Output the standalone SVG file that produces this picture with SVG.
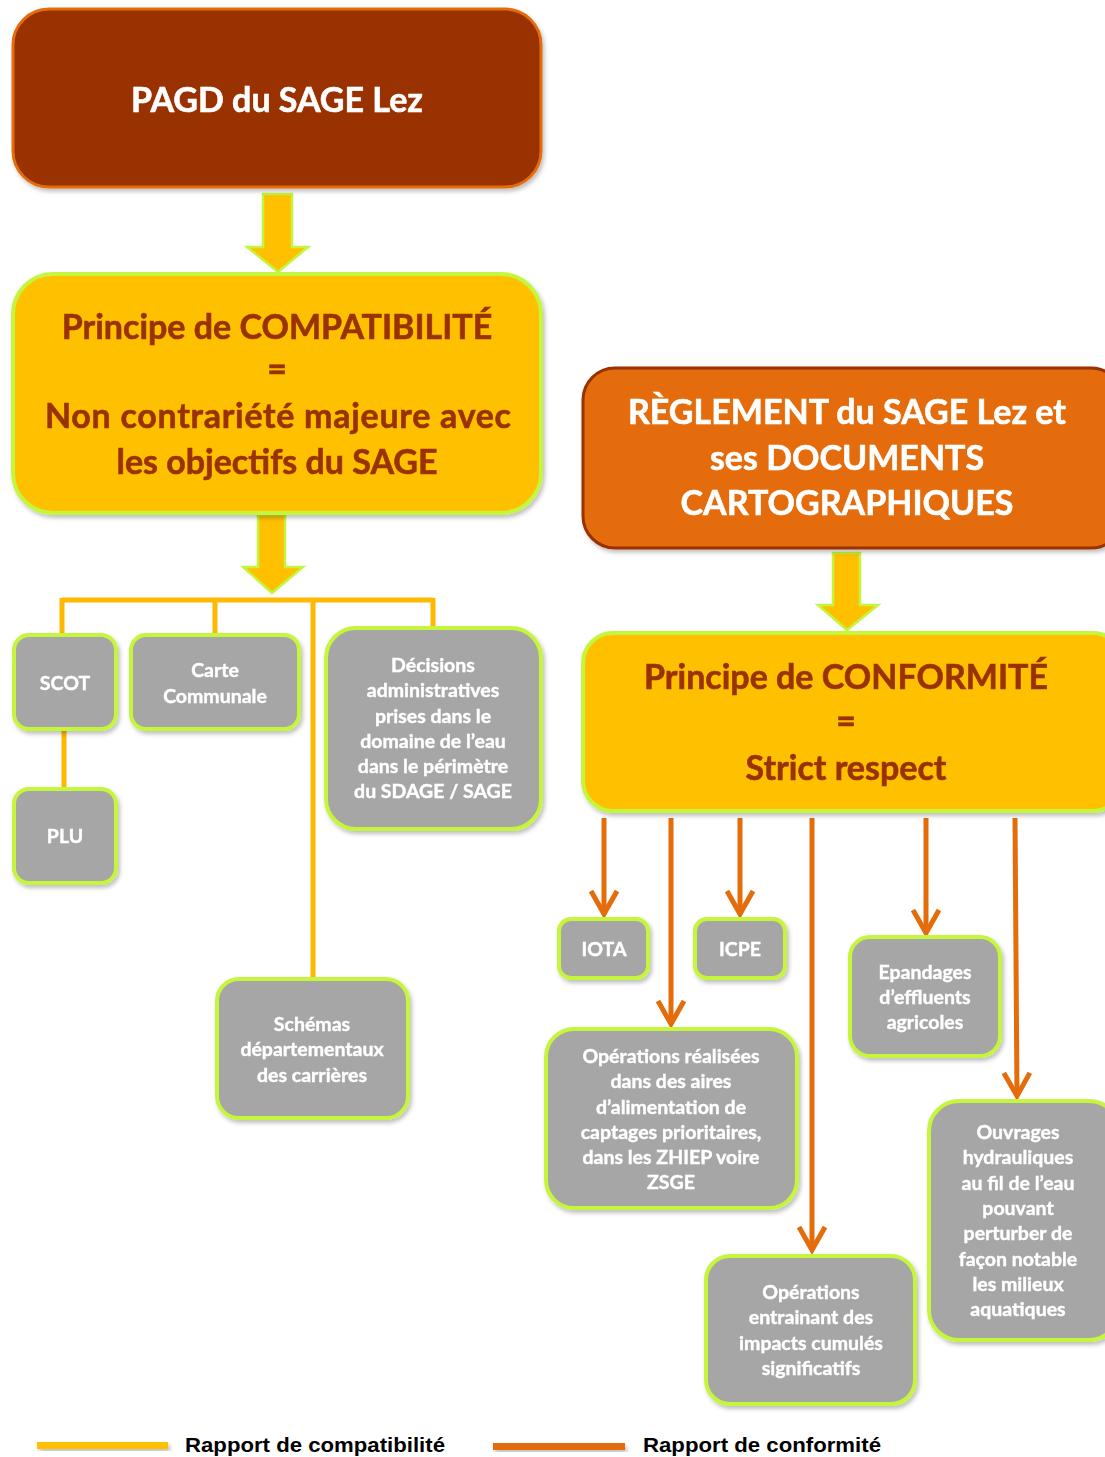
<svg xmlns="http://www.w3.org/2000/svg" width="1105" height="1457" viewBox="0 0 1105 1457">
<defs>
<style>
.t{font-family:Lato,"Open Sans","Liberation Sans",sans-serif;font-weight:bold;text-anchor:middle}
.big{font-size:34px}
.w{fill:#ffffff;stroke:#ffffff;stroke-width:0.6}
.br{fill:#993300;stroke:#993300;stroke-width:0.6}
.sm{font-size:19.5px;fill:#ffffff;stroke:#ffffff;stroke-width:0.4}
.g{fill:#A6A6A6;stroke:#C5F53C;stroke-width:4}
.y{fill:#FFC000;stroke:#C5F53C;stroke-width:4}
.bar{fill:#FFC000;stroke:#C5F53C;stroke-width:2.5}
.cl{stroke:#FFB800;stroke-width:5;fill:none}
.co{stroke:#E46C0A;stroke-width:5;fill:none}
.lg{font-family:"Liberation Sans",Arial,sans-serif;font-weight:bold;font-size:21px;fill:#000}
</style>
<marker id="ah" markerUnits="userSpaceOnUse" viewBox="-28 -18 32 36" markerWidth="32" markerHeight="36" refX="0" refY="0" orient="auto">
<path d="M-23,-13 L0,0 L-23,13" fill="none" stroke="#E46C0A" stroke-width="5" stroke-linejoin="miter"/>
</marker>
<filter id="sh" x="-10%" y="-10%" width="130%" height="130%">
<feDropShadow dx="2" dy="3" stdDeviation="2" flood-color="#000" flood-opacity="0.25"/>
</filter>
</defs>
<rect width="1105" height="1457" fill="#ffffff"/>

<g id="connectors">
<path class="cl" d="M62,600 H433 M62,598 V636 M215,598 V636 M313,600 V980 M433,598 V630 M64,729 V790"/>
<path class="co" d="M604,818 V914" marker-end="url(#ah)"/>
<path class="co" d="M671,818 V1024" marker-end="url(#ah)"/>
<path class="co" d="M740,818 V914" marker-end="url(#ah)"/>
<path class="co" d="M812,818 V1250" marker-end="url(#ah)"/>
<path class="co" d="M926,818 V933" marker-end="url(#ah)"/>
<path class="co" d="M1015,818 L1017,1096" marker-end="url(#ah)"/>
<path class="bar" d="M263,194 H292 V247 H308 L278,272 L247,247 H263 Z"/>
<path class="bar" d="M258,515 H285 V567 H303 L272,593 L243,567 H258 Z"/>
<path class="bar" d="M833,553 H860 V605 H878 L847,630 L818,605 H833 Z"/>
</g>

<g id="pagd" filter="url(#sh)">
<rect x="13" y="9" width="528" height="178" rx="36" fill="#993300" stroke="#E46C0A" stroke-width="3"/>
<text class="t big w" x="277" y="112">PAGD du SAGE Lez</text>
</g>

<g id="compat" filter="url(#sh)">
<rect class="y" x="13" y="274" width="528" height="239" rx="40"/>
<text class="t big br" x="277" y="339">Principe de COMPATIBILITÉ</text>
<text class="t big br" x="277" y="381">=</text>
<text class="t big br" x="278" y="428" textLength="466" lengthAdjust="spacing">Non contrariété majeure avec</text>
<text class="t big br" x="277" y="474">les objectifs du SAGE</text>
</g>

<g id="scot" filter="url(#sh)">
<rect class="g" x="14" y="635" width="102" height="94" rx="15"/>
<text class="t sm" x="65" y="690">SCOT</text>
</g>
<g id="carte" filter="url(#sh)">
<rect class="g" x="131" y="635" width="168" height="94" rx="15"/>
<text class="t sm" x="215" y="677">Carte</text>
<text class="t sm" x="215" y="703">Communale</text>
</g>
<g id="decisions" filter="url(#sh)">
<rect class="g" x="326" y="628" width="215" height="201" rx="30"/>
<text class="t sm" x="433" y="672">Décisions</text>
<text class="t sm" x="433" y="697">administratives</text>
<text class="t sm" x="433" y="723">prises dans le</text>
<text class="t sm" x="433" y="748">domaine de l’eau</text>
<text class="t sm" x="433" y="773">dans le périmètre</text>
<text class="t sm" x="433" y="798">du SDAGE / SAGE</text>
</g>
<g id="plu" filter="url(#sh)">
<rect class="g" x="14" y="789" width="102" height="94" rx="15"/>
<text class="t sm" x="65" y="843">PLU</text>
</g>
<g id="schemas" filter="url(#sh)">
<rect class="g" x="217" y="979" width="191" height="139" rx="22"/>
<text class="t sm" x="312" y="1031">Schémas</text>
<text class="t sm" x="312" y="1056">départementaux</text>
<text class="t sm" x="312" y="1082">des carrières</text>
</g>

<g id="reglement" filter="url(#sh)">
<rect x="583" y="368" width="540" height="180" rx="32" fill="#E46C0A" stroke="#993300" stroke-width="3"/>
<text class="t big w" x="847" y="424">RÈGLEMENT du SAGE Lez et</text>
<text class="t big w" x="847" y="470">ses DOCUMENTS</text>
<text class="t big w" x="847" y="515">CARTOGRAPHIQUES</text>
</g>

<g id="conformite" filter="url(#sh)">
<rect class="y" x="583" y="633" width="540" height="178" rx="30"/>
<text class="t big br" x="846" y="689">Principe de CONFORMITÉ</text>
<text class="t big br" x="846" y="733">=</text>
<text class="t big br" x="846" y="780">Strict respect</text>
</g>

<g id="iota" filter="url(#sh)">
<rect class="g" x="559" y="919" width="89" height="59" rx="12"/>
<text class="t sm" x="604" y="956">IOTA</text>
</g>
<g id="icpe" filter="url(#sh)">
<rect class="g" x="695" y="919" width="90" height="59" rx="12"/>
<text class="t sm" x="740" y="956">ICPE</text>
</g>
<g id="epandages" filter="url(#sh)">
<rect class="g" x="850" y="937" width="150" height="119" rx="20"/>
<text class="t sm" x="925" y="979">Epandages</text>
<text class="t sm" x="925" y="1004">d’effluents</text>
<text class="t sm" x="925" y="1029">agricoles</text>
</g>
<g id="operations1" filter="url(#sh)">
<rect class="g" x="546" y="1029" width="251" height="179" rx="28"/>
<text class="t sm" x="671" y="1063">Opérations réalisées</text>
<text class="t sm" x="671" y="1088">dans des aires</text>
<text class="t sm" x="671" y="1114">d’alimentation de</text>
<text class="t sm" x="671" y="1139">captages prioritaires,</text>
<text class="t sm" x="671" y="1164">dans les ZHIEP voire</text>
<text class="t sm" x="671" y="1189">ZSGE</text>
</g>
<g id="ouvrages" filter="url(#sh)">
<rect class="g" x="929" y="1101" width="190" height="239" rx="30"/>
<text class="t sm" x="1018" y="1139">Ouvrages</text>
<text class="t sm" x="1018" y="1164">hydrauliques</text>
<text class="t sm" x="1018" y="1190">au fil de l’eau</text>
<text class="t sm" x="1018" y="1215">pouvant</text>
<text class="t sm" x="1018" y="1240">perturber de</text>
<text class="t sm" x="1018" y="1266">façon notable</text>
<text class="t sm" x="1018" y="1291">les milieux</text>
<text class="t sm" x="1018" y="1316">aquatiques</text>
</g>
<g id="operations2" filter="url(#sh)">
<rect class="g" x="706" y="1256" width="209" height="148" rx="24"/>
<text class="t sm" x="811" y="1299">Opérations</text>
<text class="t sm" x="811" y="1324">entrainant des</text>
<text class="t sm" x="811" y="1350">impacts cumulés</text>
<text class="t sm" x="811" y="1375">significatifs</text>
</g>

<g id="legend">
<rect x="37" y="1442" width="131" height="7" fill="#FFC000" filter="url(#sh)"/>
<text class="lg" x="185" y="1452" textLength="260" lengthAdjust="spacingAndGlyphs">Rapport de compatibilité</text>
<rect x="493" y="1443" width="132" height="7" fill="#E46C0A" filter="url(#sh)"/>
<text class="lg" x="643" y="1452" textLength="238" lengthAdjust="spacingAndGlyphs">Rapport de conformité</text>
</g>
</svg>
